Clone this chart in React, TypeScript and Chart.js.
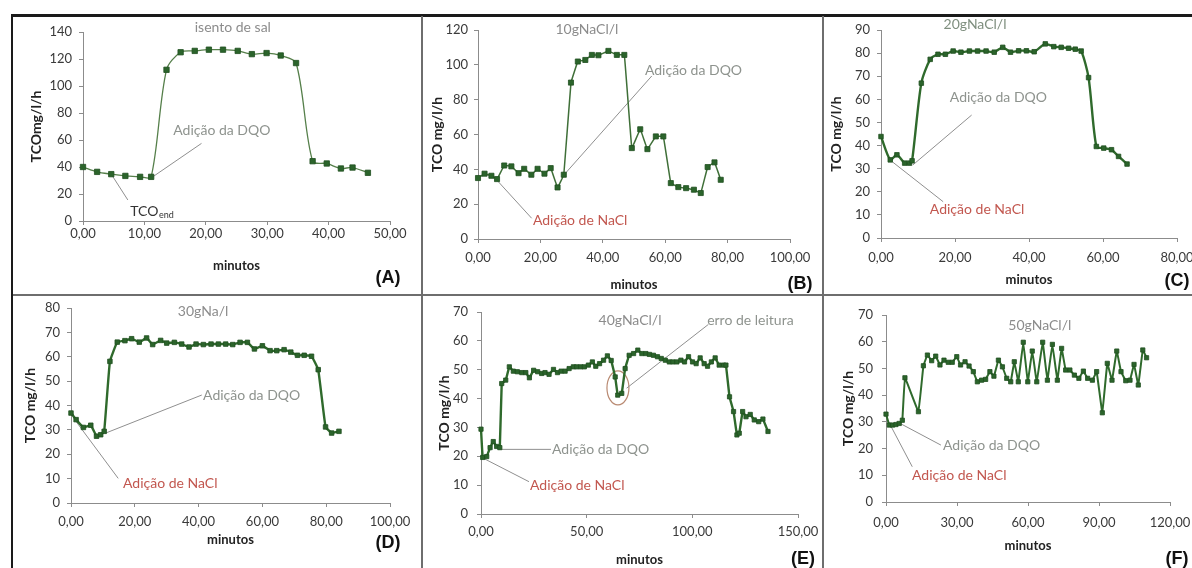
import React, { useEffect, useRef } from 'react';
import { Chart, registerables } from 'chart.js';
Chart.register(...registerables);

// ---------------- DATA ----------------
// (A) isento de sal
const minutesA = [0, 2.3, 4.6, 6.9, 9.3, 11.1, 13.6, 15.9, 18.2, 20.5, 22.8, 25.2, 27.5, 29.9, 32.2, 34.7, 37.4, 39.7, 42.0, 43.9, 46.4];
const tcoA = [40, 36.4, 34.7, 33.4, 32.7, 32.7, 112, 125, 126, 126.9, 126.9, 126, 123.6, 124.4, 122.6, 117, 44.3, 42.6, 38.9, 39.6, 35.7];
const xTicksA = [0, 10, 20, 30, 40, 50];
const yTicksA = [0, 20, 40, 60, 80, 100, 120, 140];

// (B) 10 g NaCl/l
const minutesB = [0, 2.1, 4.3, 6.1, 8.4, 10.7, 13, 14.8, 17.1, 19.1, 21.3, 23.3, 25.5, 27.5, 29.8, 32, 34.4, 36.5, 38.6, 41.8, 44.5, 46.9, 49.3, 52, 54.3, 57, 59.4, 61.8, 64.2, 66.7, 69.2, 71.4, 73.6, 75.8, 77.8];
const tcoB = [35, 37.5, 36.3, 34.4, 42.2, 41.7, 37.8, 40.3, 36.9, 40.3, 37.5, 40.7, 29.6, 36.9, 89.8, 101.9, 102.8, 105.7, 105.5, 108, 105.7, 105.7, 52.2, 63, 51.6, 58.9, 58.9, 32.1, 29.8, 29.2, 28.3, 26.4, 41.3, 44, 34];
const xTicksB = [0, 20, 40, 60, 80, 100];
const yTicksB = [0, 20, 40, 60, 80, 100, 120];

// (C) 20 g NaCl/l
const minutesC = [0, 2.5, 4.3, 6.4, 7.7, 8.4, 10.9, 13.3, 15.4, 17.4, 19.5, 21.6, 23.9, 26.1, 28.4, 30.6, 32.9, 35.0, 37.2, 39.3, 41.4, 44.4, 46.7, 48.7, 50.7, 52.5, 54.1, 56.1, 58.2, 60.2, 62.3, 64.2, 66.5];
const tcoC = [43.9, 33.8, 36, 32.4, 32.4, 33.4, 67, 77.3, 79.5, 79.5, 80.9, 80.4, 80.9, 80.9, 80.9, 80.4, 82.5, 80.4, 81, 81, 80.6, 84, 82.8, 82.5, 82.1, 81.7, 80.9, 69.4, 39.6, 38.9, 38.2, 35.3, 32];
const xTicksC = [0, 20, 40, 60, 80];
const yTicksC = [0, 10, 20, 30, 40, 50, 60, 70, 80, 90];

// (D) 30 g Na/l
const minutesD = [0, 1.6, 3.9, 6.2, 8.0, 9.3, 10.4, 12.2, 14.5, 16.9, 19.0, 21.4, 23.7, 25.6, 28.1, 30.0, 32.4, 34.7, 37.0, 39.2, 41.5, 43.9, 46.2, 48.5, 50.7, 53.0, 55.3, 57.5, 60.0, 62.4, 64.5, 66.8, 68.9, 71.0, 73.1, 75.4, 77.5, 79.8, 81.7, 84.0];
const tcoD = [36.9, 34.2, 31, 31.9, 27.4, 28, 29.4, 58.1, 66, 66.6, 67.4, 66, 67.7, 65, 66.7, 65.6, 65.9, 65.2, 64, 65.2, 65, 65.2, 65.2, 65.2, 65, 65.9, 65.9, 63.2, 64.5, 62.5, 62.5, 62.9, 61.9, 60.6, 60.6, 60.2, 54.7, 31.2, 28.7, 29.4];
const xTicksD = [0, 20, 40, 60, 80, 100];
const yTicksD = [0, 10, 20, 30, 40, 50, 60, 70, 80];

// (E) 40 g NaCl/l
const minutesE = [0, 0.8, 2.7, 4.3, 5.8, 7.4, 8.9, 9.8, 11.7, 13.4, 15.3, 17.2, 19.3, 21.2, 22.9, 24.9, 26.8, 28.7, 30.3, 32.2, 34.3, 36.2, 37.9, 39.8, 41.7, 43.7, 45.3, 47.2, 48.9, 50.8, 52.7, 54.3, 56.1, 58.0, 59.8, 61.6, 63.5, 64.7, 66.6, 68.2, 70.1, 72.2, 74.2, 76.1, 78.0, 79.7, 81.6, 83.5, 85.3, 87.2, 89.1, 90.8, 92.7, 94.6, 96.3, 98.2, 100.1, 101.8, 103.7, 105.6, 107.2, 109.0, 110.8, 112.7, 114.8, 115.9, 117.6, 119.5, 121.1, 122.2, 123.8, 125.4, 127.4, 129.3, 131.4, 133.4, 135.8];
const tcoE = [29.4, 19.6, 19.9, 23, 25.1, 23.4, 23, 45.2, 46.4, 51, 49.5, 49.3, 49, 49, 47.2, 49.8, 49.3, 48.7, 49, 48.4, 50.1, 49, 49.5, 49.5, 50.4, 51, 51, 51, 51, 51.6, 52.7, 51.2, 52.1, 53.3, 54.8, 53.2, 47.5, 41.2, 41.8, 50.4, 55, 55.6, 56.8, 55.6, 55.6, 55.3, 55, 54.5, 53.9, 53.3, 52.7, 52.7, 52.7, 53.3, 52.7, 54.5, 52.7, 52.1, 54.1, 52.1, 51.2, 52.7, 54.1, 51.6, 51.6, 51.6, 40.6, 35.5, 27.4, 28, 35.5, 33.7, 34.5, 32.6, 32, 32.9, 28.6];
const xTicksE = [0, 50, 100, 150];
const yTicksE = [0, 10, 20, 30, 40, 50, 60, 70];

// (F) 50 g NaCl/l
const minutesF = [0, 1.4, 2.8, 4.2, 5.6, 6.9, 8.0, 13.7, 15.8, 17.5, 19.3, 21.0, 22.8, 24.5, 26.3, 28.0, 29.9, 31.5, 33.4, 35.1, 36.9, 38.6, 40.4, 42.1, 43.9, 45.6, 47.5, 49.2, 51.0, 52.7, 54.2, 55.9, 58.0, 59.9, 61.8, 63.7, 66.2, 68.2, 70.3, 72.4, 74.2, 75.9, 77.7, 79.6, 81.5, 83.4, 85.2, 87.2, 89.0, 91.4, 93.5, 95.5, 97.5, 99.3, 101.3, 103.1, 104.8, 106.6, 108.5, 110.1];
const tcoF = [32.9, 28.8, 28.8, 29, 29.4, 30.6, 46.5, 33.8, 51, 55, 52.9, 54.6, 51.3, 53.1, 52.3, 52.3, 54.4, 51.3, 52.5, 50.9, 48.8, 45, 45.6, 45.9, 48.8, 47.1, 53.1, 50.6, 46.3, 45, 52.5, 45, 59.8, 45, 56.5, 45, 59.8, 45.6, 59, 45.6, 57.5, 49.4, 49.4, 47.5, 46.3, 49, 46.3, 45.6, 48.8, 33.4, 51.9, 45.6, 56.5, 48.8, 45.4, 45.6, 51.5, 43.8, 56.9, 54];
const xTicksF = [0, 30, 60, 90, 120];
const yTicksF = [0, 10, 20, 30, 40, 50, 60, 70];

// ---------------- STYLE ----------------
const FONT = 'Lato, "Open Sans", "DejaVu Sans", sans-serif';
const TITLE_GRAY = '#8c8c8c';
const DQO_GRAY = '#8e938e';
const NACL_RED = '#c2574f';
const LEADER = '#8f8f8f';
const AXIS = '#8c8c8c';
const TICK_COLOR = '#3a3a3a';
const TICK_SIZE = 13;
const ANN_SIZE = 14;

type Ann =
  | { kind: 'text'; text: string; x: number; y: number; color: string; align: 'left' | 'center'; sub?: string }
  | { kind: 'line'; x1: number; y1: number; x2: number; y2: number; color: string }
  | { kind: 'ellipse'; x: number; y: number; rx: number; ry: number; color: string };

const annA: Ann[] = [
  { kind: 'text', text: 'isento de sal', x: 24.4, y: 143, color: TITLE_GRAY, align: 'center' },
  { kind: 'line', x1: 4.6, y1: 34.7, x2: 7.3, y2: 15.6, color: LEADER },
  { kind: 'text', text: 'TCO', sub: 'end', x: 7.7, y: 6.7, color: '#333333', align: 'left' },
  { kind: 'line', x1: 11.1, y1: 31.9, x2: 19.3, y2: 57.5, color: LEADER },
  { kind: 'text', text: 'Adição da DQO', x: 14.7, y: 67.4, color: DQO_GRAY, align: 'left' },
];
const annB: Ann[] = [
  { kind: 'text', text: '10gNaCl/l', x: 34.9, y: 120.5, color: TITLE_GRAY, align: 'center' },
  { kind: 'line', x1: 6.0, y1: 33.9, x2: 17.2, y2: 11.9, color: LEADER },
  { kind: 'text', text: 'Adição de NaCl', x: 17.6, y: 10.9, color: NACL_RED, align: 'left' },
  { kind: 'line', x1: 27.5, y1: 36.7, x2: 55.7, y2: 93.6, color: LEADER },
  { kind: 'text', text: 'Adição da DQO', x: 53.5, y: 97, color: DQO_GRAY, align: 'left' },
];
const annC: Ann[] = [
  { kind: 'text', text: '20gNaCl/l', x: 25.4, y: 92.6, color: '#7f8f7f', align: 'center' },
  { kind: 'line', x1: 8.6, y1: 31.6, x2: 24.5, y2: 53.2, color: LEADER },
  { kind: 'text', text: 'Adição da DQO', x: 18.6, y: 60.6, color: DQO_GRAY, align: 'left' },
  { kind: 'line', x1: 2.4, y1: 33.8, x2: 16.8, y2: 15.7, color: LEADER },
  { kind: 'text', text: 'Adição de NaCl', x: 13.2, y: 12.5, color: NACL_RED, align: 'left' },
];
const annD: Ann[] = [
  { kind: 'text', text: '30gNa/l', x: 41.4, y: 78.4, color: TITLE_GRAY, align: 'center' },
  { kind: 'line', x1: 10.7, y1: 28.6, x2: 41, y2: 44.3, color: LEADER },
  { kind: 'text', text: 'Adição da DQO', x: 41.4, y: 44.3, color: DQO_GRAY, align: 'left' },
  { kind: 'line', x1: 1.6, y1: 33.4, x2: 14.8, y2: 10.1, color: LEADER },
  { kind: 'text', text: 'Adição de NaCl', x: 16.3, y: 8.2, color: NACL_RED, align: 'left' },
];
const annE: Ann[] = [
  { kind: 'text', text: '40gNaCl/l', x: 70.5, y: 67.2, color: TITLE_GRAY, align: 'center' },
  { kind: 'text', text: 'erro de leitura', x: 107, y: 67.2, color: DQO_GRAY, align: 'left' },
  { kind: 'ellipse', x: 64.8, y: 43.7, rx: 5.2, ry: 5.9, color: '#b98a72' },
  { kind: 'line', x1: 68.9, y1: 43.6, x2: 107.6, y2: 65.7, color: LEADER },
  { kind: 'line', x1: 8.2, y1: 22.4, x2: 33.1, y2: 22.4, color: LEADER },
  { kind: 'text', text: 'Adição da DQO', x: 33.6, y: 22.4, color: DQO_GRAY, align: 'left' },
  { kind: 'line', x1: 0.6, y1: 19.5, x2: 22.7, y2: 11.2, color: LEADER },
  { kind: 'text', text: 'Adição de NaCl', x: 23.2, y: 10, color: NACL_RED, align: 'left' },
];
const annF: Ann[] = [
  { kind: 'text', text: '50gNaCl/l', x: 65, y: 65.9, color: TITLE_GRAY, align: 'center' },
  { kind: 'line', x1: 4.5, y1: 30.1, x2: 23.2, y2: 21.3, color: LEADER },
  { kind: 'text', text: 'Adição da DQO', x: 24.1, y: 21.3, color: DQO_GRAY, align: 'left' },
  { kind: 'line', x1: 0.7, y1: 30.7, x2: 11.1, y2: 13.2, color: LEADER },
  { kind: 'text', text: 'Adição de NaCl', x: 11, y: 10.1, color: NACL_RED, align: 'left' },
];

interface Panel {
  label: string;
  box: { left: number; top: number; width: number; height: number };
  plot: { left: number; top: number; right: number; bottom: number };
  xs: number[];
  ys: number[];
  xTicks: number[];
  yTicks: number[];
  yTitle: string;
  xLabelCenter: number;
  yLabelRight: number;
  yTitleX: number;
  xTitleY: number;
  labelPos: [number, number];
  lineColor: string;
  lineWidth: number;
  radius: number;
  tension: number;
  ann: Ann[];
}

const panels: Panel[] = [
  {
    label: '(A)', box: { left: 13, top: 17, width: 408, height: 277 }, plot: { left: 83, top: 32, right: 390, bottom: 221 },
    xs: minutesA, ys: tcoA, xTicks: xTicksA, yTicks: yTicksA, yTitle: 'TCOmg/l/h',
    xLabelCenter: 234, yLabelRight: 72, yTitleX: 36, xTitleY: 266, labelPos: [388, 277],
    lineColor: '#557f4a', lineWidth: 1.3, radius: 3.8, tension: 0.3, ann: annA,
  },
  {
    label: '(B)', box: { left: 423, top: 17, width: 399, height: 277 }, plot: { left: 478, top: 30, right: 790, bottom: 239 },
    xs: minutesB, ys: tcoB, xTicks: xTicksB, yTicks: yTicksB, yTitle: 'TCO mg/l/h',
    xLabelCenter: 258, yLabelRight: 468, yTitleX: 437, xTitleY: 285, labelPos: [800, 283],
    lineColor: '#3f6f38', lineWidth: 1.5, radius: 3.6, tension: 0.05, ann: annB,
  },
  {
    label: '(C)', box: { left: 824, top: 17, width: 368, height: 277 }, plot: { left: 881, top: 30, right: 1177, bottom: 238 },
    xs: minutesC, ys: tcoC, xTicks: xTicksC, yTicks: yTicksC, yTitle: 'TCO mg/l/h',
    xLabelCenter: 258, yLabelRight: 870, yTitleX: 836, xTitleY: 280, labelPos: [1177, 280],
    lineColor: '#2f6a2c', lineWidth: 2.4, radius: 3.2, tension: 0.25, ann: annC,
  },
  {
    label: '(D)', box: { left: 13, top: 297, width: 408, height: 271 }, plot: { left: 71, top: 308, right: 390, bottom: 503 },
    xs: minutesD, ys: tcoD, xTicks: xTicksD, yTicks: yTicksD, yTitle: 'TCO mg/l/h',
    xLabelCenter: 521.7, yLabelRight: 60, yTitleX: 30, xTitleY: 540, labelPos: [388, 542],
    lineColor: '#2f6a2c', lineWidth: 2.4, radius: 3.2, tension: 0.1, ann: annD,
  },
  {
    label: '(E)', box: { left: 423, top: 297, width: 399, height: 271 }, plot: { left: 481, top: 312, right: 798, bottom: 514 },
    xs: minutesE, ys: tcoE, xTicks: xTicksE, yTicks: yTicksE, yTitle: 'TCO mg/l/h',
    xLabelCenter: 531.7, yLabelRight: 468, yTitleX: 444, xTitleY: 560, labelPos: [803, 558],
    lineColor: '#2f6a2c', lineWidth: 2.4, radius: 3.0, tension: 0.05, ann: annE,
  },
  {
    label: '(F)', box: { left: 824, top: 297, width: 368, height: 271 }, plot: { left: 886, top: 315, right: 1170, bottom: 502 },
    xs: minutesF, ys: tcoF, xTicks: xTicksF, yTicks: yTicksF, yTitle: 'TCO mg/l/h',
    xLabelCenter: 523, yLabelRight: 873, yTitleX: 848, xTitleY: 546, labelPos: [1177, 558],
    lineColor: '#2f6a2c', lineWidth: 2.0, radius: 3.0, tension: 0.05, ann: annF,
  },
];

const fmtComma = (v: number) => Number(v).toFixed(2).replace('.', ',');

function makeAnnPlugin(items: Ann[]) {
  return {
    id: 'annotations',
    beforeDatasetsDraw(chart: any) {
      const { ctx, scales } = chart;
      const x = scales.x, y = scales.y;
      ctx.save();
      for (const a of items) {
        if (a.kind === 'line') {
          ctx.strokeStyle = a.color;
          ctx.lineWidth = 1;
          ctx.beginPath();
          ctx.moveTo(x.getPixelForValue(a.x1), y.getPixelForValue(a.y1));
          ctx.lineTo(x.getPixelForValue(a.x2), y.getPixelForValue(a.y2));
          ctx.stroke();
        } else if (a.kind === 'ellipse') {
          const cx = x.getPixelForValue(a.x), cy = y.getPixelForValue(a.y);
          const rx = Math.abs(x.getPixelForValue(a.x + a.rx) - cx);
          const ry = Math.abs(y.getPixelForValue(a.y + a.ry) - cy);
          ctx.strokeStyle = a.color;
          ctx.lineWidth = 1.2;
          ctx.beginPath();
          ctx.ellipse(cx, cy, rx, ry, 0, 0, Math.PI * 2);
          ctx.stroke();
        }
      }
      ctx.restore();
    },
    afterDatasetsDraw(chart: any) {
      const { ctx, scales } = chart;
      const x = scales.x, y = scales.y;
      ctx.save();
      for (const a of items) {
        if (a.kind !== 'text') continue;
        const px = x.getPixelForValue(a.x), py = y.getPixelForValue(a.y);
        ctx.fillStyle = a.color;
        ctx.font = `${ANN_SIZE}px ${FONT}`;
        ctx.textBaseline = 'middle';
        ctx.textAlign = a.align;
        ctx.fillText(a.text, px, py);
        if (a.sub) {
          const w = ctx.measureText(a.text).width;
          ctx.font = `${Math.round(ANN_SIZE * 0.65)}px ${FONT}`;
          ctx.textAlign = 'left';
          ctx.fillText(a.sub, px + w + 0.5, py + 3.5);
        }
      }
      ctx.restore();
    },
  };
}

function PanelChart({ p }: { p: Panel }) {
  const ref = useRef<HTMLCanvasElement>(null);
  useEffect(() => {
    const canvas = ref.current;
    if (!canvas) return;
    const { box, plot } = p;
    const tickLen = 4;
    const tickLH = TICK_SIZE * 1.2;
    const yTitleSize = 14;
    const xTitleSize = 13;
    const chart = new Chart(canvas, {
      type: 'line',
      data: {
        datasets: [
          {
            data: p.xs.map((x, i) => ({ x, y: p.ys[i] })),
            borderColor: p.lineColor,
            borderWidth: p.lineWidth,
            pointStyle: 'rect',
            pointRadius: p.radius,
            pointBackgroundColor: '#2b642b',
            pointBorderColor: '#1f4f20',
            pointBorderWidth: 0.8,
            tension: p.tension,
            clip: false as any,
          },
        ],
      },
      options: {
        animation: false,
        responsive: false,
        maintainAspectRatio: false,
        events: [],
        layout: {
          padding: {
            top: plot.top - box.top,
            right: box.left + box.width - plot.right,
            left: 0,
            bottom: 0,
          },
        },
        plugins: {
          legend: { display: false },
          tooltip: { enabled: false },
        },
        scales: {
          x: {
            type: 'linear',
            min: p.xTicks[0],
            max: p.xTicks[p.xTicks.length - 1],
            afterBuildTicks: (s: any) => {
              s.ticks = p.xTicks.map((v) => ({ value: v }));
            },
            afterFit: (s: any) => {
              s.height = box.top + box.height - plot.bottom;
              s.paddingLeft = 0;
              s.paddingRight = 0;
            },
            grid: { drawOnChartArea: false, drawTicks: true, tickLength: tickLen, color: AXIS },
            border: { display: true, color: AXIS, width: 1 },
            ticks: {
              autoSkip: false,
              maxRotation: 0,
              color: TICK_COLOR,
              font: { family: FONT, size: TICK_SIZE },
              padding: Math.max(0, p.xLabelCenter - plot.bottom - tickLen - tickLH / 2),
              callback: (v: any) => fmtComma(v),
            },
            title: {
              display: true,
              text: 'minutos',
              color: '#222222',
              font: { family: FONT, size: xTitleSize, weight: 'bold' },
              padding: { top: 0, bottom: box.top + box.height - p.xTitleY - (xTitleSize * 1.2) / 2 },
            },
          },
          y: {
            type: 'linear',
            min: p.yTicks[0],
            max: p.yTicks[p.yTicks.length - 1],
            afterBuildTicks: (s: any) => {
              s.ticks = p.yTicks.map((v) => ({ value: v }));
            },
            afterFit: (s: any) => {
              s.width = plot.left - box.left;
              s.paddingTop = 0;
              s.paddingBottom = 0;
            },
            grid: { drawOnChartArea: false, drawTicks: true, tickLength: tickLen, color: AXIS },
            border: { display: true, color: AXIS, width: 1 },
            ticks: {
              autoSkip: false,
              color: TICK_COLOR,
              font: { family: FONT, size: TICK_SIZE },
              padding: plot.left - p.yLabelRight - tickLen,
              callback: (v: any) => String(v),
            },
            title: {
              display: true,
              text: p.yTitle,
              color: '#222222',
              font: { family: FONT, size: yTitleSize, weight: 'bold' },
              padding: { top: p.yTitleX - box.left - (yTitleSize * 1.2) / 2, bottom: 0 },
            },
          },
        },
      },
      plugins: [makeAnnPlugin(p.ann)],
    } as any);
    return () => chart.destroy();
  }, [p]);
  return (
    <canvas
      ref={ref}
      width={p.box.width}
      height={p.box.height}
      style={{ position: 'absolute', left: p.box.left, top: p.box.top, width: p.box.width, height: p.box.height }}
    />
  );
}

export default function App() {
  const line = (left: number, top: number, width: number, height: number, color: string) => (
    <div style={{ position: 'absolute', left, top, width, height, background: color }} />
  );
  return (
    <div style={{ position: 'absolute', left: 0, top: 0, width: 1192, height: 568, background: '#ffffff', overflow: 'hidden' }}>
      {panels.map((p) => (
        <PanelChart key={p.label} p={p} />
      ))}
      {panels.map((p) => (
        <div
          key={'lbl' + p.label}
          style={{
            position: 'absolute',
            left: p.labelPos[0],
            top: p.labelPos[1],
            transform: 'translate(-50%, -50%)',
            fontFamily: '"Liberation Sans", Arial, sans-serif',
            fontWeight: 'bold',
            fontSize: 18,
            color: '#111111',
            lineHeight: 1,
            whiteSpace: 'nowrap',
          }}
        >
          {p.label}
        </div>
      ))}
      {line(12, 14, 1180, 3, '#1a1a1a')}
      {line(11, 14, 2, 554, '#1a1a1a')}
      {line(421, 16, 2, 552, '#6e6e6e')}
      {line(822, 16, 2, 552, '#6e6e6e')}
      {line(13, 294, 1179, 2, '#6e6e6e')}
    </div>
  );
}
